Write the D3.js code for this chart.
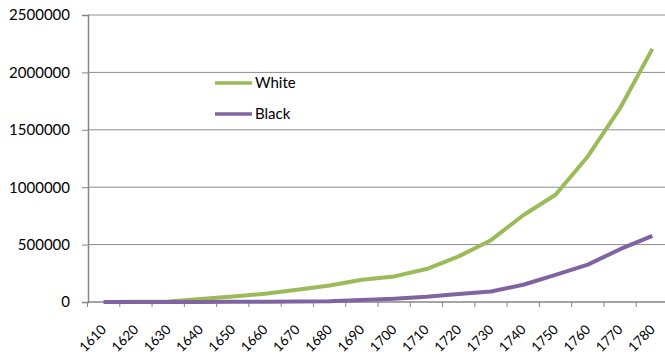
<!DOCTYPE html>
<html><head><meta charset="utf-8">
<script src="https://cdn.jsdelivr.net/npm/d3@7/dist/d3.min.js"></script>
<style>body{margin:0;background:#fff}svg{display:block}text{font-family:Lato,"Open Sans",sans-serif;fill:#000}</style>
</head><body>
<svg id="c" width="665" height="357"></svg>
<script>
const years = [1610,1620,1630,1640,1650,1660,1670,1680,1690,1700,1710,1720,1730,1740,1750,1760,1770,1780];
const white = [350,2282,4586,26034,48768,72138,107400,144536,193643,223071,286845,397346,538424,755539,934340,1267819,1688254,2204949];
const black = [0,20,60,597,1600,2920,4535,6971,16729,27817,44866,68839,91021,150024,236420,325806,459822,575420];
const yTicks = [0,500000,1000000,1500000,2000000,2500000];
const seriesNames = ["White","Black"];
const colors = ["#9BBB59","#8064A2"];

const svg = d3.select("#c");
const x = d3.scaleBand().domain(years).range([87.5,668.5]);
const y = d3.scaleLinear().domain([0,2500000]).range([302,15]);

// gridlines
svg.append("g").selectAll("line").data(yTicks.slice(1)).join("line")
  .attr("x1",88).attr("x2",665).attr("y1",d=>y(d)).attr("y2",d=>y(d))
  .attr("stroke","#8c8c8c").attr("stroke-width",1);

// y axis
const ya = svg.append("g").attr("transform","translate(88,0)")
  .call(d3.axisLeft(y).tickValues(yTicks).tickSize(6).tickPadding(12).tickFormat(d3.format("d")));
ya.select(".domain").attr("stroke","#868686").attr("stroke-width",1.5);
ya.selectAll(".tick line").attr("stroke","#868686").attr("stroke-width",1);
ya.selectAll("text").style("font-size","15px").attr("fill","#000");

// x axis
const xa = svg.append("g").attr("transform","translate(0,302)")
  .call(d3.axisBottom(x).tickSize(0).tickSizeOuter(0));
xa.select(".domain").attr("d","M88,0H665").attr("stroke","#868686").attr("stroke-width",1.5);
// tick marks at band boundaries
xa.append("g").selectAll("line").data(years).join("line")
  .attr("x1",d=>x(d)).attr("x2",d=>x(d)).attr("y1",0).attr("y2",5)
  .attr("stroke","#868686").attr("stroke-width",1);
xa.selectAll(".tick text")
  .style("font-size","13.5px").attr("fill","#000")
  .attr("text-anchor","end")
  .attr("dy","0")
  .attr("y",0)
  .attr("transform","translate(3.5,28.5) rotate(-45)");

// lines
const line = d3.line().x((d,i)=>x(years[i])+x.bandwidth()/2).y(d=>y(d));
[white,black].forEach((s,k)=>{
  svg.append("path").datum(s).attr("d",line).attr("fill","none")
    .attr("stroke",colors[k]).attr("stroke-width",4).attr("stroke-linejoin","round");
});

// legend
const lg = svg.append("g");
seriesNames.forEach((n,k)=>{
  const ly = 83 + k*31;
  lg.append("line").attr("x1",215).attr("x2",252).attr("y1",ly).attr("y2",ly)
    .attr("stroke",colors[k]).attr("stroke-width",3.5);
  lg.append("text").attr("x",255).attr("y",ly).attr("dy","0.35em")
    .style("font-size","15px").text(n);
});
</script>
</body></html>
